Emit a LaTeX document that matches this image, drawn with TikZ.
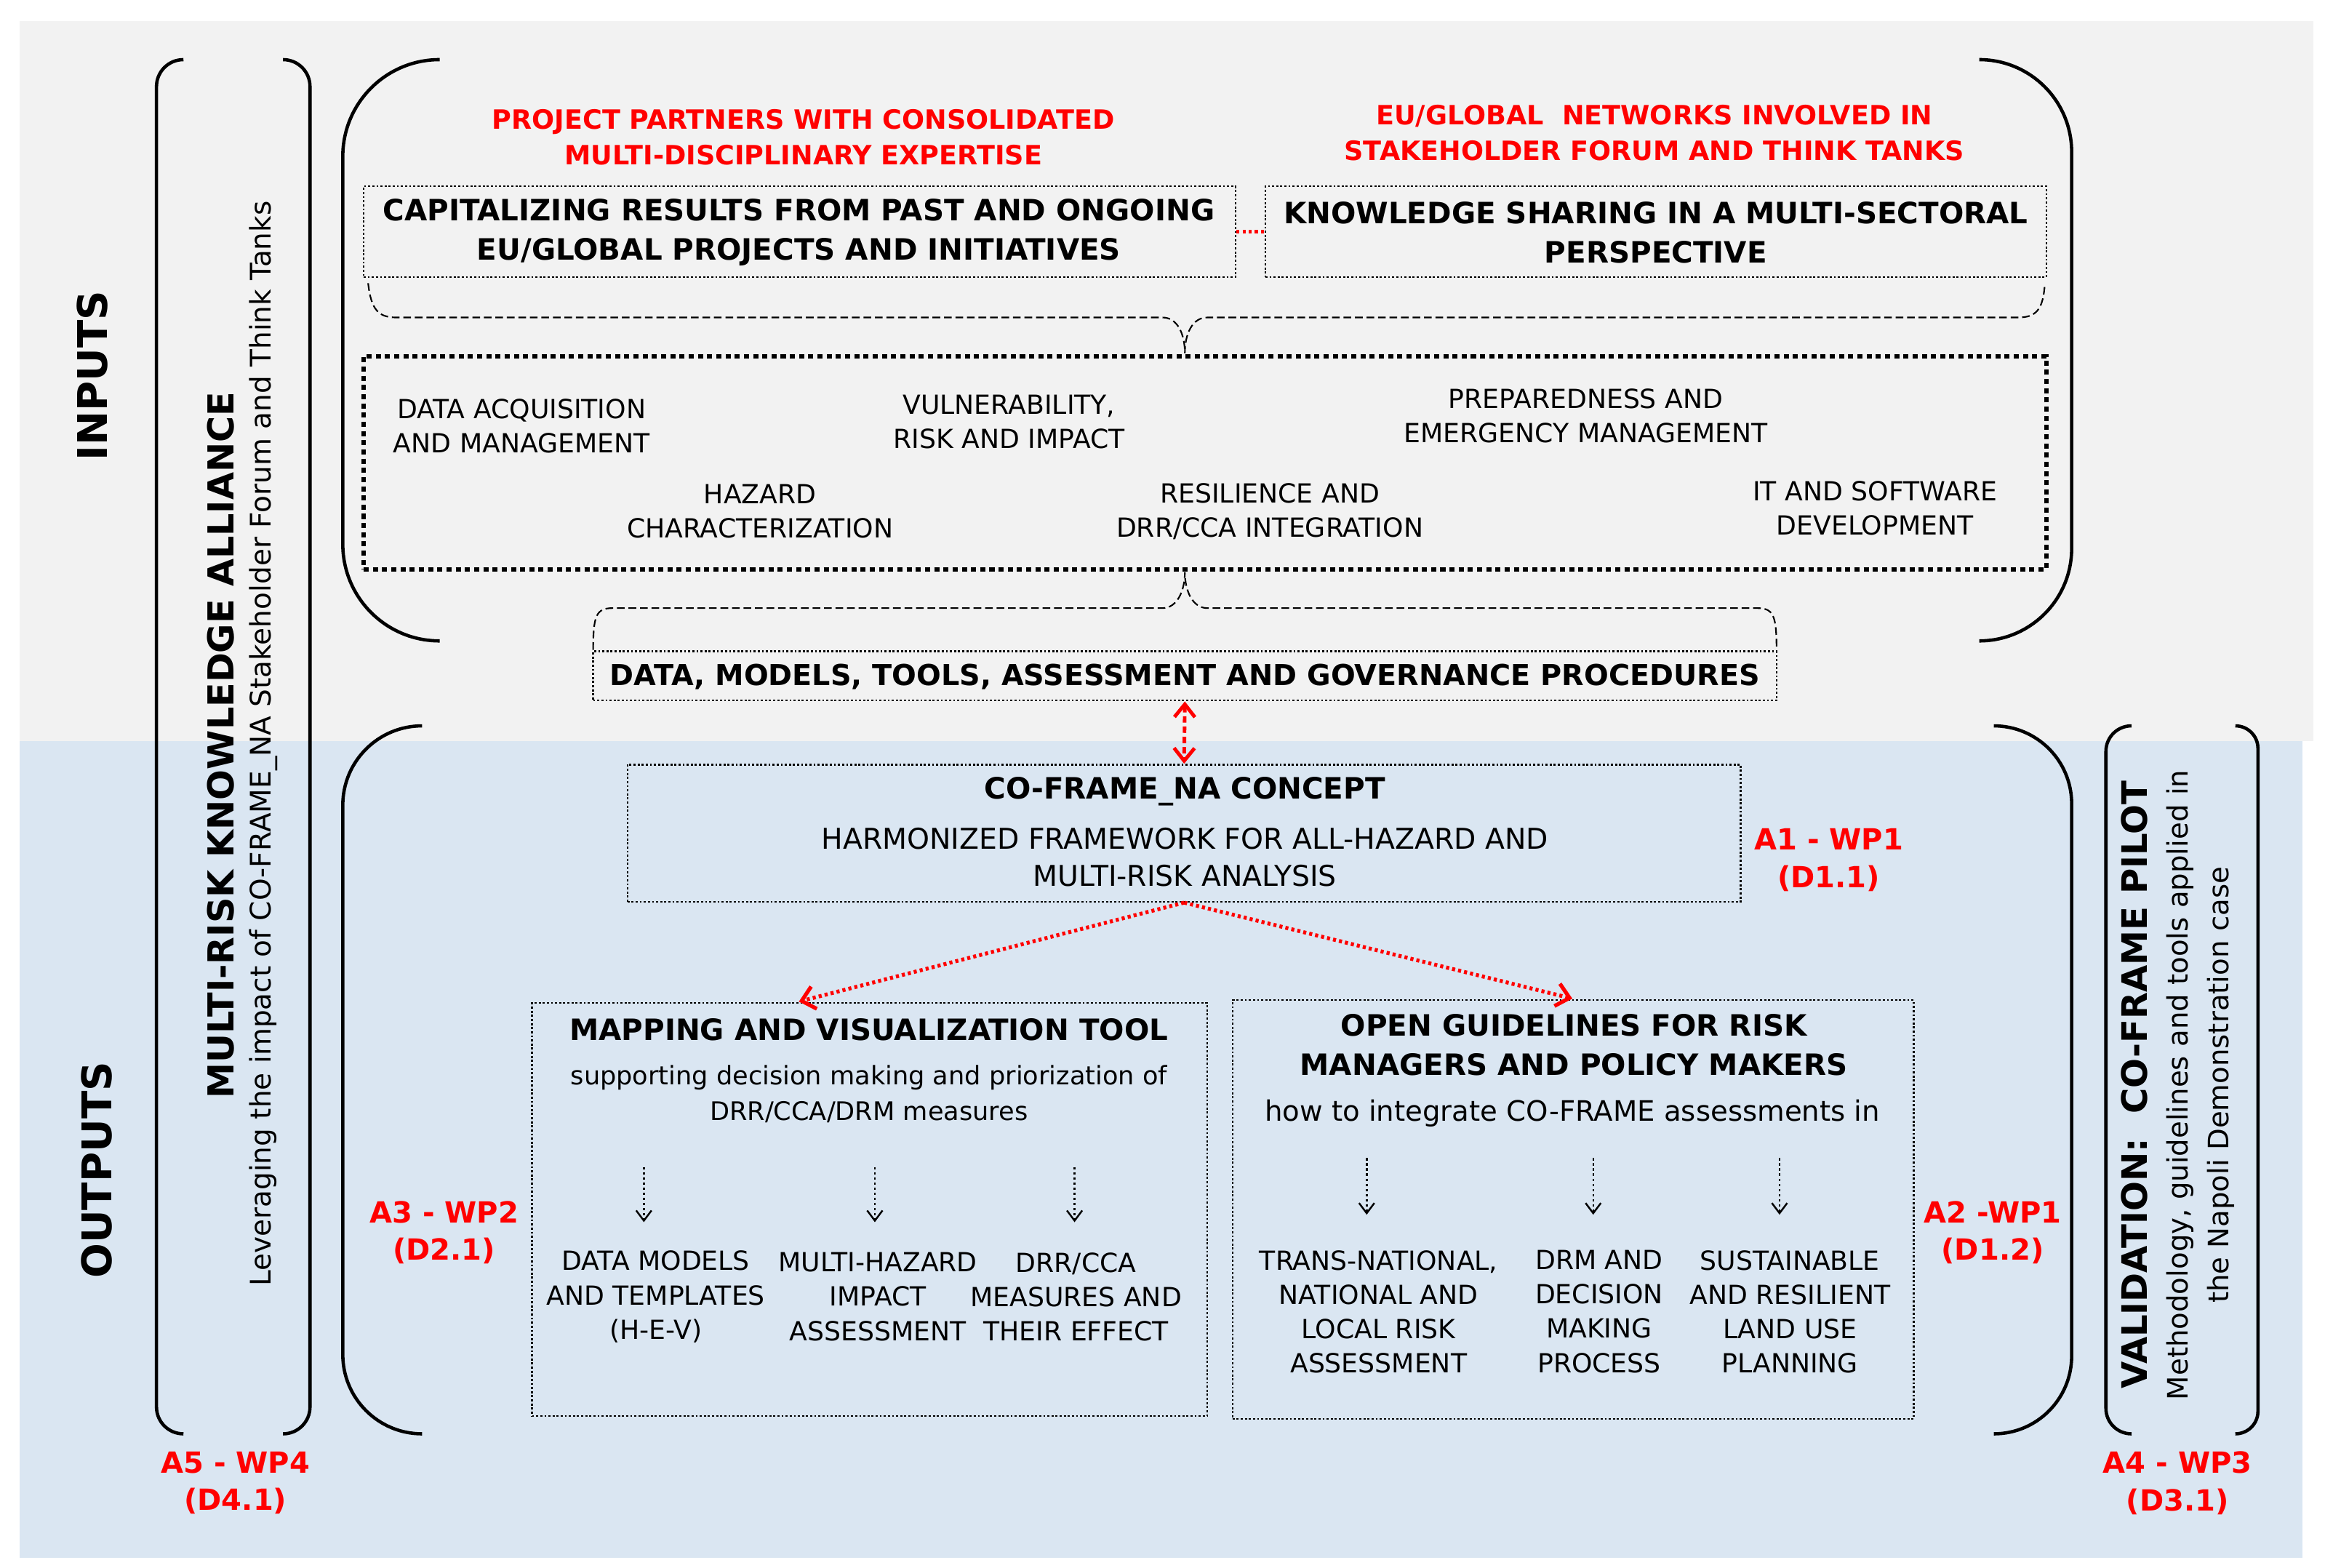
\documentclass[tikz,border=0pt]{standalone}
\usepackage{fontspec}
\setmainfont{DejaVu Sans}
\usetikzlibrary{arrows.meta,fit,calc}
\definecolor{bggray}{HTML}{F2F2F2}
\definecolor{bgblue}{HTML}{DAE6F2}
\definecolor{myred}{HTML}{FF0000}
\newcommand{\myfs}[2]{\fontsize{#1}{#2}\selectfont}
\begin{document}
\begin{tikzpicture}[x=0.02049cm,y=-0.02049cm,
  txt/.style={inner sep=0pt,align=center},
  itemtxt/.style={txt,font=\myfs{10.3}{13.4}},
  ttl/.style={txt,font=\bfseries\myfs{11.5}{15.2}},
  redlbl/.style={txt,text=myred,font=\bfseries\myfs{11.4}{14.6}},
  redttl/.style={txt,text=myred,font=\bfseries\myfs{10.4}{14}},
  thinbox/.style={draw,line width=0.7pt,dash pattern=on 0.8pt off 0.8pt,inner sep=0pt},
  thickbox/.style={draw,line width=1.8pt,dash pattern=on 2pt off 1.6pt,inner sep=0pt},
  bracedash/.style={line width=0.6pt,dash pattern=on 3pt off 1.5pt},
  bracket/.style={line width=1.3pt},
  redarrow/.style={draw=myred,line width=1.5pt,dash pattern=on 1.2pt off 1.2pt,-{Straight Barb[length=5pt,width=9pt,line width=1.5pt]}},
  redtwo/.style={draw=myred,line width=1.4pt,dash pattern=on 2.5pt off 1.5pt,{Straight Barb[length=5pt,width=8pt,line width=1.4pt]}-{Straight Barb[length=5pt,width=8pt,line width=1.4pt]}},
  smallarrow/.style={draw,line width=0.7pt,dash pattern=on 1pt off 1pt,-{Straight Barb[length=4pt,width=6pt,line width=0.7pt]}}
]
\useasboundingbox (0,0) rectangle (1560,1052);
% backgrounds
\fill[bggray] (13,14) rectangle (1552,497);
\fill[bgblue] (13,497) rectangle (1545,1045);

% left labels
\node[txt,rotate=90,font=\bfseries\myfs{16}{19}] (inputs) at (62,252) {INPUTS};
\node[txt,rotate=90,font=\bfseries\myfs{16}{19}] (outputs) at (65,785) {OUTPUTS};
\node[txt,rotate=90,font=\bfseries\myfs{14}{17}] (mrka) at (148,500) {MULTI-RISK KNOWLEDGE ALLIANCE};
\node[txt,rotate=90,font=\myfs{11.1}{14}] (lev) at (177,499) {Leveraging the impact of CO-FRAME\_NA Stakeholder Forum and Think Tanks};
\node[redlbl] (a5) at (158,995) {A5 - WP4\\(D4.1)};

% brackets
\draw[bracket,rounded corners=0.37cm] (123,40) -| (105,962) -- (123,962);
\draw[bracket,rounded corners=0.37cm] (190,40) -| (208,962) -- (190,962);
\draw[bracket,rounded corners=1.33cm] (295,40) -| (230,430) -- (295,430);
\draw[bracket,rounded corners=1.27cm] (1328,40) -| (1390,430) -- (1328,430);
\draw[bracket,rounded corners=1.09cm] (283,487) -| (230,962) -- (283,962);
\draw[bracket,rounded corners=1.07cm] (1338,487) -| (1390,962) -- (1338,962);
\draw[bracket,rounded corners=0.35cm] (1430,487) -| (1413,962) -- (1430,962);
\draw[bracket,rounded corners=0.31cm] (1500,487) -| (1515,962) -- (1500,962);

% red titles
\node[redttl] (pp) at (539,92) {PROJECT PARTNERS WITH CONSOLIDATED\\MULTI-DISCIPLINARY EXPERTISE};
\node[redttl] (eu) at (1110,89) {EU/GLOBAL\ \ NETWORKS INVOLVED IN\\STAKEHOLDER FORUM AND THINK TANKS};

% top boxes
\node[thinbox,fit={(244,125) (829,186)}] (cap) {};
\node[ttl] (captxt) at (536,156) {CAPITALIZING RESULTS FROM PAST AND ONGOING\\EU/GLOBAL PROJECTS AND INITIATIVES};
\node[thinbox,fit={(849,125) (1373,186)}] (kn) {};
\node[ttl] (kntxt) at (1111,156) {KNOWLEDGE SHARING IN A MULTI-SECTORAL\\PERSPECTIVE};
\draw[draw=myred,line width=1.3pt,dash pattern=on 1.2pt off 1.2pt] (cap.east) -- (kn.west);

% brace 1
\draw[bracedash] (247,190) .. controls (249,208) and (254,213) .. (266,213) -- (780,213)
  .. controls (790,213) and (795,224) .. (795,237)
  .. controls (795,224) and (800,213) .. (810,213) -- (1354,213)
  .. controls (1366,213) and (1371,208) .. (1372,190);

% thick box with fields
\node[thickbox,fit={(244,239) (1373,382)}] (fields) {};
\node[itemtxt] (f1) at (350,286) {DATA ACQUISITION\\AND MANAGEMENT};
\node[itemtxt] (f2) at (677,283) {VULNERABILITY,\\RISK AND IMPACT};
\node[itemtxt] (f3) at (1064,279) {PREPAREDNESS AND\\EMERGENCY MANAGEMENT};
\node[itemtxt] (f4) at (510,343) {HAZARD\\CHARACTERIZATION};
\node[itemtxt] (f5) at (852,343) {RESILIENCE AND\\DRR/CCA INTEGRATION};
\node[itemtxt] (f6) at (1258,341) {IT AND SOFTWARE\\DEVELOPMENT};

% brace 2
\draw[bracedash] (398,436) .. controls (398,413) and (400,408) .. (411,408) -- (780,408)
  .. controls (790,408) and (795,396) .. (795,384)
  .. controls (795,396) and (800,408) .. (810,408) -- (1179,408)
  .. controls (1190,408) and (1192,413) .. (1192,436);

% data box
\node[thinbox,fit={(398,437) (1192,470)}] (data) {};
\node[txt,font=\bfseries\myfs{11.3}{14}] (datatxt) at (795,454) {DATA, MODELS, TOOLS, ASSESSMENT AND GOVERNANCE PROCEDURES};

% co-frame box
\node[thinbox,fit={(421,513) (1168,605)}] (cof) {};
\node[ttl] (coft) at (795,531) {CO-FRAME\_NA CONCEPT};
\node[txt,font=\myfs{11.2}{14.6}] (cofs) at (795,575) {HARMONIZED FRAMEWORK FOR ALL-HAZARD AND\\MULTI-RISK ANALYSIS};
\node[redlbl] (a1) at (1227,577) {A1 - WP1\\(D1.1)};
\draw[redtwo] (data.south) -- (cof.north);

% mapping box
\node[thinbox,fit={(357,673) (810,950)}] (map) {};
\node[ttl] (mapt) at (583,691) {MAPPING AND VISUALIZATION TOOL};
\node[txt,font=\myfs{10}{14}] (maps) at (583,734) {supporting decision making and priorization of\\DRR/CCA/DRM measures};
\node[itemtxt] (m1) at (440,870) {DATA MODELS\\AND TEMPLATES\\(H-E-V)};
\node[itemtxt] (m2) at (589,870) {MULTI-HAZARD\\IMPACT\\ASSESSMENT};
\node[itemtxt] (m3) at (722,870) {DRR/CCA\\MEASURES AND\\THEIR EFFECT};
\node[redlbl] (a3) at (298,827) {A3 - WP2\\(D2.1)};

% guidelines box
\node[thinbox,fit={(827,671) (1284,952)}] (guide) {};
\node[ttl] (guidet) at (1056,701) {OPEN GUIDELINES FOR RISK\\MANAGERS AND POLICY MAKERS};
\node[txt,font=\myfs{11}{14}] (guides) at (1055,747) {how to integrate CO-FRAME assessments in};
\node[itemtxt] (g1) at (925,880) {TRANS-NATIONAL,\\NATIONAL AND\\LOCAL RISK\\ASSESSMENT};
\node[itemtxt] (g2) at (1073,880) {DRM AND\\DECISION\\MAKING\\PROCESS};
\node[itemtxt] (g3) at (1201,880) {SUSTAINABLE\\AND RESILIENT\\LAND USE\\PLANNING};
\node[redlbl] (a2) at (1337,827) {A2 -WP1\\(D1.2)};

% red arrows from concept
\coordinate (mapin) at (536,672);
\coordinate (guidein) at (1055,670);
\draw[redarrow] (cof.south) -- (mapin);
\draw[redarrow] (cof.south) -- (guidein);

% small arrows
\foreach \n/\x/\ya/\yb in {ma/432/783/820, mb/587/783/820, mc/721/783/820, ga/917/777/815, gb/1069/777/815, gc/1194/777/815}{
  \coordinate (\n s) at (\x,\ya);
  \coordinate (\n e) at (\x,\yb);
  \draw[smallarrow] (\n s) -- (\n e);
}

% validation
\node[txt,rotate=90,font=\bfseries\myfs{13.7}{17}] (val) at (1432,728) {VALIDATION:\ \ CO-FRAME PILOT};
\node[txt,rotate=90,font=\myfs{11}{15.7}] (vals) at (1476.5,728) {Methodology, guidelines and tools applied in\\the Napoli Demonstration case};
\node[redlbl] (a4) at (1461,995) {A4 - WP3\\(D3.1)};
\end{tikzpicture}
\end{document}
